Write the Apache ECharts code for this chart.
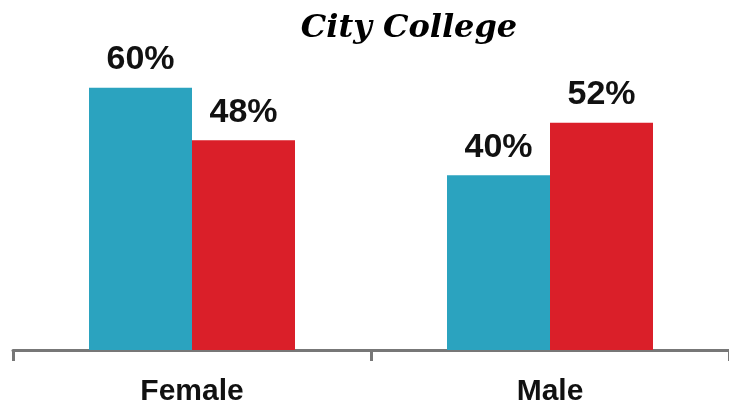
<!DOCTYPE html>
<html>
<head>
<meta charset="utf-8">
<script src="https://cdn.jsdelivr.net/npm/echarts@6/dist/echarts.min.js"></script>
<style>
  html, body { margin: 0; padding: 0; background: #fff; }
  #main { width: 729px; height: 415px; }
</style>
</head>
<body>
<div id="main"></div>
<script>
  // data
  const categories = ['Female', 'Male'];
  const seriesA = [0.60, 0.40];
  const seriesB = [0.48, 0.52];

  const chart = echarts.init(document.getElementById('main'));
  const pctLabel = {
    show: true,
    position: 'top',
    distance: 11,
    color: '#111',
    fontFamily: 'Liberation Sans, Arial, sans-serif',
    fontWeight: 'bold',
    fontSize: 34,
    formatter: (p) => Math.round(p.value * 100) + '%',
  };

  chart.setOption({
    animation: false,
    title: {
      text: 'City College',
      left: 404,
      top: 8,
      textAlign: 'center',
      textStyle: {
        fontFamily: 'DejaVu Serif, serif',
        fontStyle: 'italic',
        fontWeight: 'bold',
        fontSize: 32,
        color: '#000',
      },
    },
    grid: {
      left: 13,
      right: -3,
      top: 44,
      bottom: 65,
    },
    xAxis: {
      type: 'category',
      data: categories,
      axisLine: { lineStyle: { color: '#777', width: 3 } },
      axisTick: { show: true, length: 11, lineStyle: { color: '#777', width: 3 } },
      axisLabel: {
        color: '#111',
        fontFamily: 'Liberation Sans, Arial, sans-serif',
        fontWeight: 'bold',
        fontSize: 30,
        margin: 27,
      },
    },
    yAxis: {
      type: 'value',
      min: 0,
      max: 0.7,
      show: false,
      splitLine: { show: false },
    },
    series: [
      {
        type: 'bar',
        data: seriesA,
        barWidth: 103,
        barGap: '0%',
        itemStyle: { color: '#2BA3BF' },
        label: pctLabel,
      },
      {
        type: 'bar',
        data: seriesB,
        barWidth: 103,
        itemStyle: { color: '#DA1F29' },
        label: pctLabel,
      },
    ],
  });
</script>
</body>
</html>
